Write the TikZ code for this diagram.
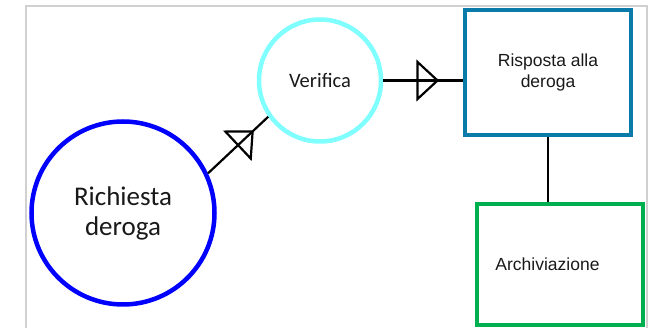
\documentclass[tikz,border=0pt]{standalone}
\usepackage{fontspec}
\usetikzlibrary{decorations.markings}
\newfontfamily\circfont{Carlito}
\newfontfamily\boxfont{Liberation Sans}
\definecolor{cirblue}{HTML}{0000FF}
\definecolor{circyan}{HTML}{80FFFF}
\definecolor{boxblue}{HTML}{0A7AA8}
\definecolor{boxgreen}{HTML}{00B050}
\definecolor{frame}{HTML}{D0D0D0}
\tikzset{
  bigcirc/.style={circle, draw=cirblue, line width=4.5pt, minimum size=183pt, inner sep=0pt,
    align=center, font=\circfont\fontsize{27}{30}\selectfont, text=black!90},
  smallcirc/.style={circle, draw=circyan, line width=4.5pt, minimum size=122pt, inner sep=0pt,
    font=\circfont\fontsize{20.5}{24}\selectfont, text=black!90},
  stepbox/.style={rectangle, line width=4pt, minimum width=166pt, inner sep=0pt,
    align=center, font=\boxfont\fontsize{17.5}{21}\selectfont, text=black!90},
  link/.style={line width=2.2pt},
  midtri/.style={postaction={decorate}, decoration={markings, mark=at position #1 with
    {\draw[line width=2.2pt] (0,-18.5pt) -- (20pt,0) -- (0,18.5pt) -- cycle;}}}
}
\begin{document}
\begin{tikzpicture}[x=1pt, y=-1pt]
  \useasboundingbox (0,0) rectangle (651,328);
  \draw[frame, line width=1.5pt] (26,330) -- (26,6) -- (647,6) -- (647,330);

  \node[bigcirc] (rich) at (123,213) {Richiesta\\deroga};
  \node[smallcirc] (ver) at (320,80.5) {Verifica};
  \node[stepbox, draw=boxblue, minimum height=125pt] (risp) at (548,72.5) {Risposta alla\\deroga};
  \node[stepbox, draw=boxgreen, minimum height=121pt] (arch) at (560,264.5) {};
  \node[font=\boxfont\fontsize{17.5}{21}\selectfont, text=black!90] (archtxt) at (547.5,264) {Archiviazione};

  \draw[link, midtri=0.5] (rich.25) -- (ver.215);
  \draw[link, midtri=0.43] (ver.east) -- (ver.east -| risp.west);
  \draw[link] (risp.south) -- (risp.south |- arch.north);
\end{tikzpicture}
\end{document}
